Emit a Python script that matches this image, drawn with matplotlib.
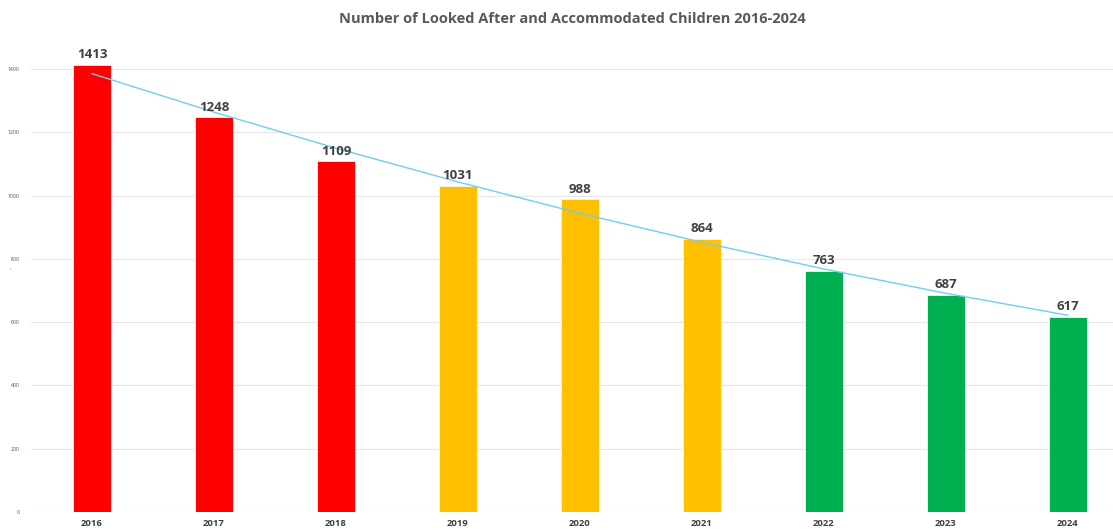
import numpy as np
import matplotlib.pyplot as plt

plt.rcParams['font.family'] = ['Open Sans', 'DejaVu Sans']

# data
years = ['2016', '2017', '2018', '2019', '2020', '2021', '2022', '2023', '2024']
children = [1413, 1248, 1109, 1031, 988, 864, 763, 687, 617]
bar_colors = ['#FF0000', '#FF0000', '#FF0000',
              '#FFC000', '#FFC000', '#FFC000',
              '#00B050', '#00B050', '#00B050']

fig = plt.figure(figsize=(11.13, 5.31), dpi=100)
ax = fig.add_axes([31 / 1113, 19 / 531, 1 - 31 / 1113, 1 - 19 / 531 - 37.4 / 531])

x = np.arange(len(years))
ax.bar(x, children, width=0.31, color=bar_colors, edgecolor='#f4f4f4', linewidth=0.6, zorder=2)

# polynomial (order 2) trend line, as in the original
coef = np.polyfit(x, children, 2)
ax.plot(x, np.polyval(coef, x), color='#72CDF0', linewidth=1.0, zorder=3)

for xi, v in zip(x, children):
    ax.annotate(str(v), (xi, v), xytext=(0, 2.5), textcoords='offset points',
                ha='center', va='bottom', fontsize=9.5, fontweight='bold', color='#404040', zorder=4)

ax.set_xlim(-0.5, 8.37)
ax.set_ylim(0, 1500)
ax.set_yticks(range(0, 1401, 200))
ax.set_xticks(x)
ax.set_xticklabels(years, fontsize=6.8, fontweight='bold', color='#404040')
ax.tick_params(axis='y', labelsize=3.7, colors='#505050', length=0, pad=8)
ax.tick_params(axis='x', length=0, pad=5)
ax.grid(axis='y', color='#e6e6e6', linewidth=0.8, zorder=0)
ax.set_axisbelow(True)
for s in ax.spines.values():
    s.set_visible(False)

# small stray y-axis title mark
fig.text(12 / 1113, 1 - 268 / 531, '-', rotation=90, fontsize=4, color='#404040',
         ha='center', va='center')

fig.text(0.514, 0.965, 'Number of Looked After and Accommodated Children 2016-2024',
         ha='center', va='center', fontsize=10.5, fontweight='bold', color='#595959')

plt.savefig('out.png', dpi=100)
